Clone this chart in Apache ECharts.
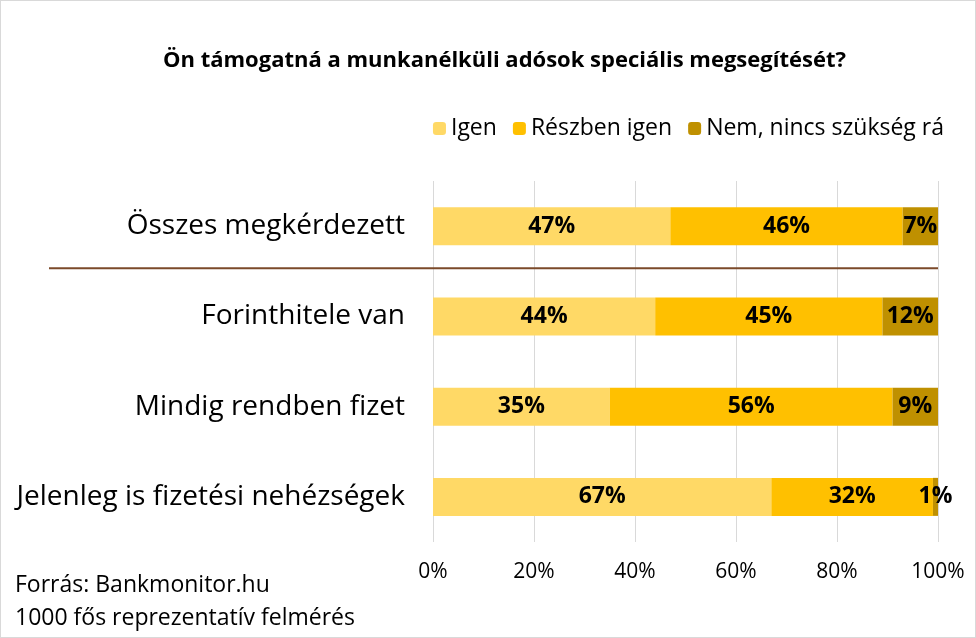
<!DOCTYPE html>
<html>
<head>
<meta charset="utf-8">
<script src="https://cdn.jsdelivr.net/npm/echarts@6/dist/echarts.min.js"></script>
<style>
html,body{margin:0;padding:0;background:#fff;}
#c{width:976px;height:638px;box-sizing:border-box;border:1px solid #d9d9d9;}
</style>
</head>
<body>
<div id="c"></div>
<script>
var categories = ['Összes megkérdezett', 'Forinthitele van', 'Mindig rendben fizet', 'Jelenleg is fizetési nehézségek'];
var seriesNames = ['Igen', 'Részben igen', 'Nem, nincs szükség rá'];
var igen = [47, 44, 35, 67];
var reszben = [46, 45, 56, 32];
var nem = [7, 12, 9, 1];
var xTicks = [0, 20, 40, 60, 80, 100];
var colors = ['#FFD966', '#FFC000', '#BF9000'];
var titleText = 'Ön támogatná a munkanélküli adósok speciális megsegítését?';
var sourceLines = ['Forrás: Bankmonitor.hu', '1000 fős reprezentatív felmérés'];

var FONT = 'Open Sans';
var chart = echarts.init(document.getElementById('c'));

function mk(name, data, color) {
  return {
    name: name, type: 'bar', stack: 'total', data: data, barWidth: 38,
    itemStyle: { color: color },
    label: { show: true, position: 'inside', formatter: '{c}%', color: '#000', fontWeight: 'bold', fontSize: 23, fontFamily: FONT }
  };
}

chart.setOption({
  animation: false,
  textStyle: { fontFamily: FONT },
  title: [
    { text: titleText, left: 157, top: 44, textStyle: { fontSize: 22, fontWeight: 'bold', color: '#000', fontFamily: FONT } },
    { text: sourceLines.join('\n'), left: 9, top: 563, textStyle: { fontSize: 23, fontWeight: 'normal', color: '#000', lineHeight: 33, fontFamily: FONT } }
  ],
  legend: {
    data: seriesNames, right: 26, top: 111, itemWidth: 13, itemHeight: 13, itemGap: 16,
    textStyle: { fontSize: 23, color: '#000', fontFamily: FONT }
  },
  grid: { left: 432, right: 37, top: 180, bottom: 95, containLabel: false },
  xAxis: {
    type: 'value', min: xTicks[0], max: xTicks[xTicks.length - 1], interval: 20,
    axisLine: { show: false }, axisTick: { show: false },
    splitLine: { show: true, lineStyle: { color: '#d9d9d9', width: 1 } },
    axisLabel: { formatter: '{value}%', fontSize: 21, color: '#000', margin: 20, fontFamily: FONT }
  },
  yAxis: {
    type: 'category', data: categories, inverse: true,
    axisLine: { show: false }, axisTick: { show: false },
    axisLabel: { fontSize: 28, color: '#000', margin: 28, fontFamily: FONT }
  },
  series: [mk(seriesNames[0], igen, colors[0]), mk(seriesNames[1], reszben, colors[1]), mk(seriesNames[2], nem, colors[2])]
});

var y0 = chart.convertToPixel({ yAxisIndex: 0 }, categories[0]);
var y1 = chart.convertToPixel({ yAxisIndex: 0 }, categories[1]);
var xr = chart.convertToPixel({ xAxisIndex: 0 }, 100);
var ys = (y0 + y1) / 2 - 3;
chart.setOption({
  graphic: [{ type: 'line', shape: { x1: 48, y1: ys, x2: xr, y2: ys }, style: { stroke: '#7B4A2A', lineWidth: 2 }, z: 10 }]
});
</script>
</body>
</html>
